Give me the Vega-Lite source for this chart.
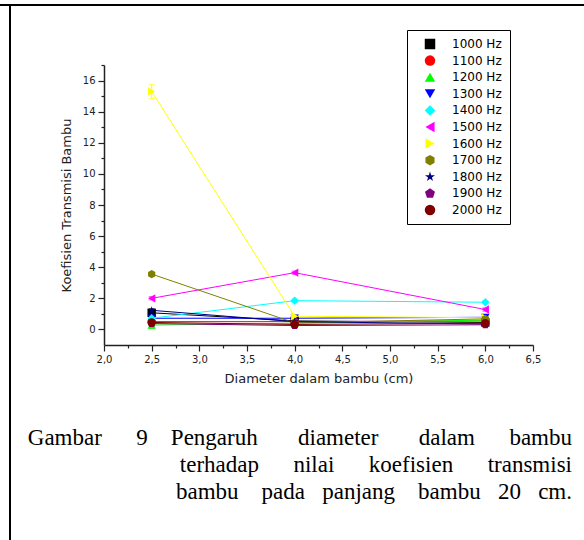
{
  "$schema": "https://vega.github.io/schema/vega-lite/v6.json",
  "autosize": {"type": "none"},
  "padding": {"left": 104, "top": 65, "right": 51, "bottom": 195},
  "width": 429,
  "height": 280,
  "background": "white",
  "config": {
    "view": {"stroke": null},
    "axis": {
      "domainColor": "#222222",
      "domainWidth": 1.5,
      "tickColor": "#222222",
      "tickWidth": 1.2,
      "labelColor": "#222222",
      "labelFont": "DejaVu Sans",
      "labelFontSize": 10,
      "titleFont": "DejaVu Sans",
      "titleFontSize": 13,
      "titleFontWeight": "normal",
      "titleColor": "#222222",
      "grid": false
    }
  },
  "title": {
    "text": [
      "Gambar\u00a0\u00a0\u00a0\u00a0\u00a0\u00a09\u00a0\u00a0\u00a0\u00a0Pengaruh\u00a0\u00a0\u00a0\u00a0\u00a0\u00a0\u00a0diameter\u00a0\u00a0\u00a0\u00a0\u00a0\u00a0\u00a0dalam\u00a0\u00a0\u00a0\u00a0\u00a0\u00a0bambu",
      "terhadap\u00a0\u00a0\u00a0\u00a0\u00a0\u00a0nilai\u00a0\u00a0\u00a0\u00a0\u00a0\u00a0koefisien\u00a0\u00a0\u00a0\u00a0\u00a0\u00a0transmisi",
      "bambu\u00a0\u00a0\u00a0\u00a0pada\u00a0\u00a0\u00a0panjang\u00a0\u00a0\u00a0\u00a0bambu\u00a0\u00a0\u00a020\u00a0\u00a0\u00a0cm."
    ],
    "orient": "bottom",
    "anchor": "end",
    "align": "right",
    "frame": "group",
    "dx": 39,
    "offset": -115,
    "font": "Liberation Serif",
    "fontSize": 23,
    "fontWeight": "normal",
    "lineHeight": 27,
    "color": "black"
  },
  "data": {
    "values": [
      {"d": 2.5, "k": 1.07, "f": "1000 Hz", "err": 0.1},
      {"d": 4.0, "k": 0.55, "f": "1000 Hz", "err": 0.1},
      {"d": 6.0, "k": 0.45, "f": "1000 Hz", "err": 0.1},
      {"d": 2.5, "k": 0.5, "f": "1100 Hz", "err": 0.1},
      {"d": 4.0, "k": 0.5, "f": "1100 Hz", "err": 0.1},
      {"d": 6.0, "k": 0.55, "f": "1100 Hz", "err": 0.1},
      {"d": 2.5, "k": 0.28, "f": "1200 Hz", "err": 0.2},
      {"d": 4.0, "k": 0.4, "f": "1200 Hz", "err": 0.1},
      {"d": 6.0, "k": 0.6, "f": "1200 Hz", "err": 0.1},
      {"d": 2.5, "k": 0.72, "f": "1300 Hz", "err": 0.1},
      {"d": 4.0, "k": 0.72, "f": "1300 Hz", "err": 0.1},
      {"d": 6.0, "k": 0.78, "f": "1300 Hz", "err": 0.1},
      {"d": 2.5, "k": 0.72, "f": "1400 Hz", "err": 0.1},
      {"d": 4.0, "k": 1.85, "f": "1400 Hz", "err": 0.1},
      {"d": 6.0, "k": 1.75, "f": "1400 Hz", "err": 0.1},
      {"d": 2.5, "k": 2.0, "f": "1500 Hz", "err": 0.1},
      {"d": 4.0, "k": 3.65, "f": "1500 Hz", "err": 0.1},
      {"d": 6.0, "k": 1.28, "f": "1500 Hz", "err": 0.1},
      {"d": 2.5, "k": 15.3, "f": "1600 Hz", "err": 0.45},
      {"d": 4.0, "k": 0.85, "f": "1600 Hz", "err": 0.1},
      {"d": 6.0, "k": 0.75, "f": "1600 Hz", "err": 0.1},
      {"d": 2.5, "k": 3.56, "f": "1700 Hz", "err": 0.1},
      {"d": 4.0, "k": 0.42, "f": "1700 Hz", "err": 0.1},
      {"d": 6.0, "k": 0.68, "f": "1700 Hz", "err": 0.1},
      {"d": 2.5, "k": 1.23, "f": "1800 Hz", "err": 0.1},
      {"d": 4.0, "k": 0.5, "f": "1800 Hz", "err": 0.1},
      {"d": 6.0, "k": 0.35, "f": "1800 Hz", "err": 0.1},
      {"d": 2.5, "k": 0.38, "f": "1900 Hz", "err": 0.1},
      {"d": 4.0, "k": 0.25, "f": "1900 Hz", "err": 0.1},
      {"d": 6.0, "k": 0.3, "f": "1900 Hz", "err": 0.1},
      {"d": 2.5, "k": 0.45, "f": "2000 Hz", "err": 0.1},
      {"d": 4.0, "k": 0.32, "f": "2000 Hz", "err": 0.1},
      {"d": 6.0, "k": 0.4, "f": "2000 Hz", "err": 0.1}
    ]
  },
  "encoding": {
    "x": {
      "field": "d", "type": "quantitative",
      "scale": {"domain": [2, 6.5], "nice": false, "zero": false},
      "axis": {
        "title": "Diameter dalam bambu (cm)",
        "values": [2, 2.25, 2.5, 2.75, 3, 3.25, 3.5, 3.75, 4, 4.25, 4.5, 4.75, 5, 5.25, 5.5, 5.75, 6, 6.25, 6.5],
        "labelExpr": "(datum.value * 2) % 1 === 0 ? replace(format(datum.value, '.1f'), '.', ',') : ''",
        "tickSize": {"condition": {"test": "(datum.value * 2) % 1 === 0", "value": 6}, "value": 3},
        "labelPadding": 3,
        "titlePadding": 8,
        "labelFlush": false,
        "labelOverlap": false
      }
    },
    "y": {
      "field": "k", "type": "quantitative",
      "scale": {"domain": [-1, 17], "nice": false, "zero": false},
      "axis": {
        "title": "Koefisien Transmisi Bambu",
        "values": [0, 1, 2, 3, 4, 5, 6, 7, 8, 9, 10, 11, 12, 13, 14, 15, 16, 17],
        "labelExpr": "datum.value % 2 === 0 ? format(datum.value, 'd') : ''",
        "tickSize": {"condition": {"test": "datum.value % 2 === 0", "value": 6}, "value": 3},
        "labelPadding": 3,
        "titlePadding": 9,
        "labelFlush": false,
        "labelOverlap": false
      }
    }
  },
  "resolve": {"legend": {"color": "independent", "shape": "independent"}},
  "layer": [
    {
      "mark": {"type": "line", "strokeWidth": 1},
      "encoding": {
        "color": {
          "field": "f", "type": "nominal",
          "legend": null,
          "scale": {
            "domain": ["1000 Hz", "1100 Hz", "1200 Hz", "1300 Hz", "1400 Hz", "1500 Hz", "1600 Hz", "1700 Hz", "1800 Hz", "1900 Hz", "2000 Hz"],
            "range": ["#000000", "#ff0000", "#00ff00", "#0000ff", "#00ffff", "#ff00ff", "#ffff00", "#808000", "#000080", "#800080", "#800000"]
          }
        }
      }
    },
    {
      "mark": {"type": "errorbar", "ticks": {"size": 6}, "thickness": 1},
      "encoding": {
        "yError": {"field": "err"},
        "color": {"field": "f", "type": "nominal", "legend": null}
      }
    },
    {
      "mark": {"type": "point", "filled": true, "opacity": 1, "size": 70},
      "encoding": {
        "color": {
          "field": "f", "type": "nominal",
          "legend": {
            "title": null,
            "orient": "none",
            "legendX": 303,
            "legendY": -35,
            "strokeColor": "black",
            "fillColor": "white",
            "padding": 8,
            "rowPadding": 4.6,
            "symbolSize": 110,
            "symbolOffset": 9,
            "labelOffset": 16,
            "labelFont": "DejaVu Sans",
            "labelFontSize": 12,
            "labelColor": "black"
          }
        },
        "shape": {
          "field": "f", "type": "nominal",
          "legend": null,
          "scale": {
            "domain": ["1000 Hz", "1100 Hz", "1200 Hz", "1300 Hz", "1400 Hz", "1500 Hz", "1600 Hz", "1700 Hz", "1800 Hz", "1900 Hz", "2000 Hz"],
            "range": ["square", "circle", "triangle-up", "triangle-down", "diamond", "triangle-left", "triangle-right", "M0,-1L0.866,-0.5L0.866,0.5L0,1L-0.866,0.5L-0.866,-0.5Z", "M0,-1L0.2245,-0.309L0.951,-0.309L0.3633,0.118L0.5878,0.809L0,0.382L-0.5878,0.809L-0.3633,0.118L-0.951,-0.309L-0.2245,-0.309Z", "M0,-1L0.951,-0.309L0.588,0.809L-0.588,0.809L-0.951,-0.309Z", "circle"]
          }
        }
      }
    },
    {
      "mark": {"type": "rule", "clip": false, "color": "black", "strokeWidth": 2},
      "encoding": {
        "x": {"datum": 0.91, "type": "quantitative"},
        "x2": {"datum": 7.04},
        "y": {"datum": 20.86, "type": "quantitative"}
      }
    },
    {
      "mark": {"type": "rule", "clip": false, "color": "black", "strokeWidth": 1.5},
      "encoding": {
        "x": {"datum": 1.014, "type": "quantitative"},
        "y": {"datum": 20.86, "type": "quantitative"},
        "y2": {"datum": -13.6}
      }
    }
  ]
}
